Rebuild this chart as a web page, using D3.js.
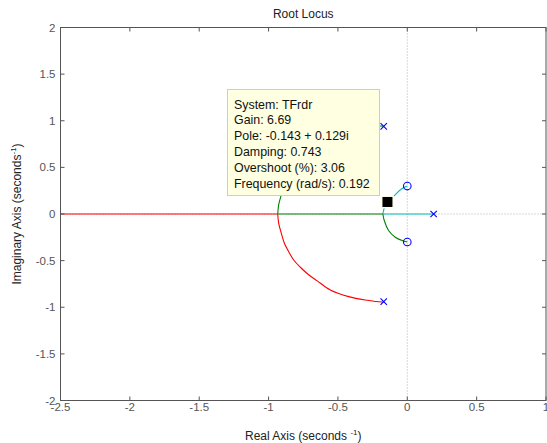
<!DOCTYPE html>
<html><head><meta charset="utf-8">
<script src="https://cdn.jsdelivr.net/npm/d3@7"></script>
<style>
html,body{margin:0;padding:0;background:#fff;}
svg{display:block;font-family:"Liberation Sans",Arial,sans-serif;}
</style></head>
<body><svg id="c" width="547" height="443"></svg>
<script>
// ---- data ----
const xTicks = [-2.5,-2,-1.5,-1,-0.5,0,0.5,1];
const yTicks = [-2,-1.5,-1,-0.5,0,0.5,1,1.5,2];
const poleRe = [-0.17,-0.17,0.19];
const poleIm = [0.94,-0.94,0];
const zeroRe = [0,0];
const zeroIm = [0.3,-0.3];
// red branch: lower complex pole -> break-in -> along negative real axis
const redRe = [-0.17,-0.183,-0.303,-0.423,-0.555,-0.651,-0.718,-0.771,-0.819,-0.855,-0.886,-0.908,-0.927,-0.934,-3.0];
const redIm = [-0.94,-0.943,-0.922,-0.886,-0.815,-0.715,-0.643,-0.571,-0.493,-0.404,-0.314,-0.207,-0.1,0,0];
// green branch: upper complex pole -> break-in -> real axis -> break-away -> lower zero
const greenRe = [-0.17,-0.183,-0.303,-0.423,-0.555,-0.651,-0.718,-0.771,-0.819,-0.855,-0.886,-0.908,-0.927,-0.934,-0.176,-0.166,-0.135,-0.087,-0.027,0];
const greenIm = [0.94,0.943,0.922,0.886,0.815,0.715,0.643,0.571,0.493,0.404,0.314,0.207,0.1,0,0,-0.07,-0.177,-0.249,-0.29,-0.3];
// cyan branch: real pole -> real axis -> break-away -> upper zero
const cyanRe = [0.19,-0.176,-0.165,-0.143,-0.094,-0.04,0];
const cyanIm = [0,0,0.07,0.129,0.198,0.27,0.3];
const tipPoint = [-0.143,0.129];
const tipLines = ["System: TFrdr","Gain: 6.69","Pole: -0.143 + 0.129i","Damping: 0.743","Overshoot (%): 3.06","Frequency (rad/s): 0.192"];

// ---- layout ----
const L=60.5, R=546, T=27.5, B=400.5;
const x = d3.scaleLinear().domain([-2.5,1]).range([L,R]);
const y = d3.scaleLinear().domain([-2,2]).range([B,T]);
const svg = d3.select("#c");
const axisCol="#555", txtCol="#555";

svg.append("defs").append("clipPath").attr("id","clip")
  .append("rect").attr("x",L).attr("y",T).attr("width",R-L).attr("height",B-T);

// title
svg.append("text").attr("x",(L+R)/2).attr("y",18).attr("text-anchor","middle")
  .attr("font-size",12).attr("fill","#222").text("Root Locus");

const plot = svg.append("g").attr("clip-path","url(#clip)");
// zero lines (dotted)
plot.append("line").attr("x1",x(0)).attr("x2",x(0)).attr("y1",T).attr("y2",B)
  .attr("stroke","#b0b0b0").attr("stroke-dasharray","1,2").attr("stroke-width",1);
plot.append("line").attr("x1",L).attr("x2",R).attr("y1",y(0)).attr("y2",y(0))
  .attr("stroke","#b0b0b0").attr("stroke-dasharray","1,2").attr("stroke-width",1);

const line = d3.line().x(d=>x(d[0])).y(d=>y(d[1])).curve(d3.curveCatmullRom.alpha(0.5));
const linLine = d3.line().x(d=>x(d[0])).y(d=>y(d[1]));
function branch(re,im,col){
  // curved parts with Catmull-Rom, real-axis parts straight
  const pts = re.map((r,i)=>[r,im[i]]);
  let seg=[pts[0]], segs=[];
  for(let i=1;i<pts.length;i++){
    const a=pts[i-1], b=pts[i];
    const straight = a[1]===0 && b[1]===0;
    if(straight){ if(seg.length>1) segs.push({p:seg,s:false}); segs.push({p:[a,b],s:true}); seg=[b]; }
    else seg.push(b);
  }
  if(seg.length>1) segs.push({p:seg,s:false});
  segs.forEach(s=>{
    plot.append("path").attr("d",(s.s?linLine:line)(s.p)).attr("fill","none")
      .attr("stroke",col).attr("stroke-width",1.1);
  });
}
branch(redRe,redIm,"#ff0000");
branch(cyanRe,cyanIm,"#00bfbf");
branch(greenRe,greenIm,"#008000");

// poles (x) and zeros (o)
const ms=3.2;
poleRe.forEach((r,i)=>{
  const cx=x(r), cy=y(poleIm[i]);
  plot.append("path").attr("d",`M${cx-ms},${cy-ms}L${cx+ms},${cy+ms}M${cx-ms},${cy+ms}L${cx+ms},${cy-ms}`)
    .attr("stroke","#0000ff").attr("stroke-width",1.1).attr("fill","none");
});
zeroRe.forEach((r,i)=>{
  plot.append("circle").attr("cx",x(r)).attr("cy",y(zeroIm[i])).attr("r",3.8)
    .attr("stroke","#0000ff").attr("stroke-width",1.1).attr("fill","none");
});

// axes box and ticks
const ax = svg.append("g");
ax.append("rect").attr("x",L).attr("y",T).attr("width",R-L).attr("height",B-T)
  .attr("fill","none").attr("stroke",axisCol).attr("stroke-width",1);
const tl=4, fs=11.5;
xTicks.forEach(t=>{
  const px=x(t);
  ax.append("line").attr("x1",px).attr("x2",px).attr("y1",B).attr("y2",B-tl).attr("stroke",axisCol);
  ax.append("line").attr("x1",px).attr("x2",px).attr("y1",T).attr("y2",T+tl).attr("stroke",axisCol);
  ax.append("text").attr("x",px).attr("y",B+10.5).attr("text-anchor","middle")
    .attr("font-size",fs).attr("fill",txtCol).text(t);
});
yTicks.forEach(t=>{
  const py=y(t);
  ax.append("line").attr("x1",L).attr("x2",L+tl).attr("y1",py).attr("y2",py).attr("stroke",axisCol);
  ax.append("line").attr("x1",R).attr("x2",R-tl).attr("y1",py).attr("y2",py).attr("stroke",axisCol);
  ax.append("text").attr("x",L-5).attr("y",py+4).attr("text-anchor","end")
    .attr("font-size",fs).attr("fill",txtCol).text(t);
});

// axis labels
const xl = svg.append("text").attr("x",(L+R)/2).attr("y",440).attr("text-anchor","middle")
  .attr("font-size",12).attr("fill","#222");
xl.append("tspan").text("Real Axis (seconds ");
xl.append("tspan").attr("dy",-5).attr("font-size",8).text("-1");
xl.append("tspan").attr("dy",5).text(")");
const yl = svg.append("text").attr("transform",`translate(21,${(T+B)/2}) rotate(-90)`)
  .attr("text-anchor","middle").attr("font-size",12).attr("fill","#222");
yl.append("tspan").text("Imaginary Axis (seconds");
yl.append("tspan").attr("dy",-5).attr("font-size",8).text("-1");
yl.append("tspan").attr("dy",5).text(")");

// data tip
const tip = svg.append("g");
const bx=227.5, by=89.5, bw=152, bh=106;
tip.append("rect").attr("x",bx).attr("y",by).attr("width",bw).attr("height",bh)
  .attr("fill","#ffffe1").attr("stroke","#cfcfbf").attr("stroke-width",1);
tipLines.forEach((s,i)=>{
  tip.append("text").attr("x",bx+6.5).attr("y",by+19+i*15.8).attr("font-size",12.4)
    .attr("fill","#111").text(s);
});
const tx=x(tipPoint[0]), ty=y(tipPoint[1]);
tip.append("rect").attr("x",tx-6.5).attr("y",ty-6.5).attr("width",13).attr("height",13)
  .attr("fill","#ffffe1");
tip.append("rect").attr("x",tx-5).attr("y",ty-5).attr("width",10).attr("height",10)
  .attr("fill","#000");
</script></body></html>
